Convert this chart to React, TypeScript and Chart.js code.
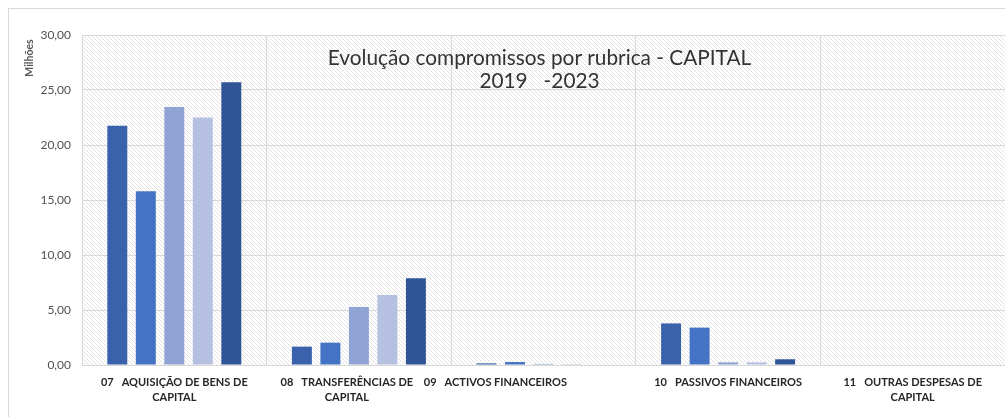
import React, { useEffect, useRef } from "react";
import { Chart, registerables } from "chart.js";

Chart.register(...registerables);

const categories: (string | string[])[] = [
  ["07   AQUISIÇÃO DE BENS DE", "CAPITAL"],
  ["08   TRANSFERÊNCIAS DE         ", "CAPITAL         "],
  ["09   ACTIVOS FINANCEIROS                                    "],
  ["10   PASSIVOS FINANCEIROS"],
  ["11   OUTRAS DESPESAS DE", "CAPITAL"],
];

const seriesNames = ["2019", "2020", "2021", "2022", "2023"];
const values2019 = [21.75, 1.67, 0.15, 3.78, 0];
const values2020 = [15.8, 2.03, 0.27, 3.4, 0];
const values2021 = [23.45, 5.27, 0.1, 0.24, 0];
const values2022 = [22.5, 6.36, 0.08, 0.24, 0];
const values2023 = [25.7, 7.88, 0, 0.52, 0];
const seriesColors = ["#3A62AC", "#4472C4", "#8FA3D5", "#B6C1E2", "#2F5597"];

const titleLines = ["Evolução compromissos por rubrica - CAPITAL", "2019   -2023"];
const yAxisTitle = "Milhões";
const yTicks = { min: 0, max: 30, step: 5 };

const FONT = "Lato, 'Open Sans', sans-serif";

function makeHatch(): CanvasPattern | string {
  const c = document.createElement("canvas");
  c.width = 4;
  c.height = 4;
  const g = c.getContext("2d");
  if (!g) return "#f2f2f2";
  g.fillStyle = "#ffffff";
  g.fillRect(0, 0, 4, 4);
  g.fillStyle = "#e2e2e2";
  for (let i = 0; i < 4; i++) g.fillRect(i, i, 1, 1);
  const p = g.createPattern(c, "repeat");
  return p || "#f2f2f2";
}

export default function App() {
  const ref = useRef<HTMLCanvasElement>(null);

  useEffect(() => {
    if (!ref.current) return;
    const hatch = makeHatch();

    const decor = {
      id: "decor",
      beforeDraw(chart: any) {
        const { ctx, chartArea } = chart;
        ctx.save();
        ctx.strokeStyle = "#d9d9d9";
        ctx.lineWidth = 1;
        ctx.strokeRect(8.5, 8.5, 1200, 600);
        ctx.fillStyle = hatch as any;
        ctx.fillRect(chartArea.left, chartArea.top, chartArea.right - chartArea.left, chartArea.bottom - chartArea.top);
        ctx.restore();
      },
      afterDraw(chart: any) {
        const { ctx, chartArea } = chart;
        ctx.save();
        const cx = (chartArea.left + chartArea.right) / 2 - 4;
        ctx.fillStyle = "#333333";
        ctx.font = `20.8px ${FONT}`;
        ctx.textAlign = "center";
        ctx.textBaseline = "alphabetic";
        ctx.fillText(titleLines[0], cx, chartArea.top + 30);
        ctx.fillText(titleLines[1], cx, chartArea.top + 53);
        ctx.translate(30, 58);
        ctx.rotate(-Math.PI / 2);
        ctx.font = `bold 10.5px ${FONT}`;
        ctx.fillStyle = "#595959";
        ctx.textBaseline = "middle";
        ctx.fillText(yAxisTitle, 0, 0);
        ctx.restore();
      },
    };

    const allValues = [values2019, values2020, values2021, values2022, values2023];

    const chart = new Chart(ref.current, {
      type: "bar",
      data: {
        labels: categories,
        datasets: allValues.map((v, i) => ({
          label: seriesNames[i],
          data: v,
          backgroundColor: seriesColors[i],
          borderWidth: 0,
          categoryPercentage: 0.772,
          barPercentage: 0.7,
        })),
      },
      options: {
        animation: false,
        responsive: true,
        maintainAspectRatio: false,
        layout: { padding: { left: 0, top: 35, right: 0, bottom: 0 } },
        plugins: {
          legend: { display: false },
          title: { display: false },
          tooltip: { enabled: false },
        },
        scales: {
          x: {
            grid: { color: "#d9d9d9", offset: true, drawTicks: false },
            border: { color: "#d9d9d9" },
            ticks: {
              color: "#262626",
              font: { family: FONT, size: 11, weight: "bold", lineHeight: 1.35 },
              padding: 10,
              maxRotation: 0,
              minRotation: 0,
              autoSkip: false,
            },
            afterFit(scale: any) {
              scale.height = 52;
            },
          },
          y: {
            min: yTicks.min,
            max: yTicks.max,
            grid: { color: "#d9d9d9", drawTicks: false },
            border: { display: false },
            ticks: {
              stepSize: yTicks.step,
              color: "#505050",
              font: { family: FONT, size: 12 },
              padding: 11,
              callback: (v: any) => Number(v).toFixed(2).replace(".", ","),
            },
            afterFit(scale: any) {
              scale.width = 82;
            },
          },
        },
      },
      plugins: [decor],
    });
    return () => chart.destroy();
  }, []);

  return (
    <div style={{ position: "fixed", left: 0, top: 0, width: 1005, height: 417, background: "#ffffff" }}>
      <canvas ref={ref} />
    </div>
  );
}
